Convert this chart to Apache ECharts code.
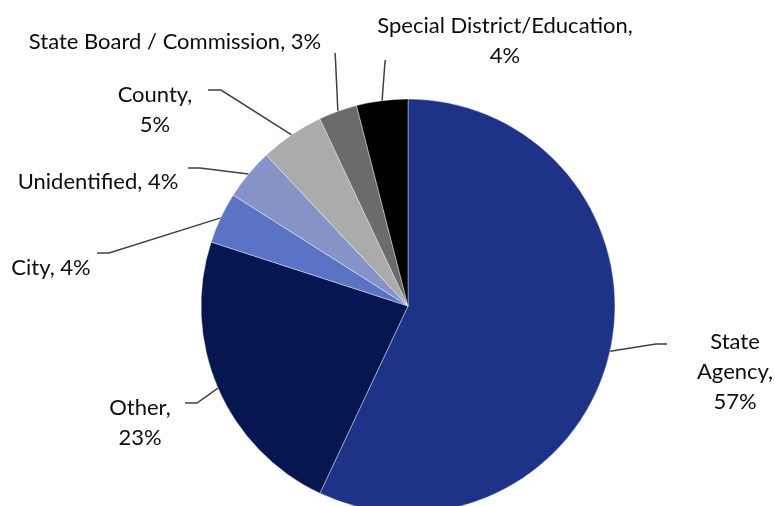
<!DOCTYPE html>
<html>
<head>
<meta charset="utf-8">
<script src="https://cdn.jsdelivr.net/npm/echarts@6/dist/echarts.min.js"></script>
<style>
  html, body { margin: 0; padding: 0; background: #fff; }
  #chart { width: 775px; height: 506px; }
</style>
</head>
<body>
<div id="chart"></div>
<script>
// Share of records by entity type (percent), clockwise from 12 o'clock
const categories = [
  'State Agency',
  'Other',
  'City',
  'Unidentified',
  'County',
  'State Board / Commission',
  'Special District/Education'
];
const shares = [57, 23, 4, 4, 5, 3, 4];

// How each label wraps: name text and the separator placed before the value
const labelNames = [
  'State\nAgency',
  'Other',
  'City',
  'Unidentified',
  'County',
  'State Board / Commission',
  'Special District/Education'
];
const labelSeps = ['\n', '\n', ' ', ' ', '\n', ' ', '\n'];

const sliceColors = ['#1e3388', '#061650', '#5a73c4', '#8593c6', '#ababab', '#6b6b6b', '#000000'];

// Label block centres (layout only)
const labelSpots = [
  [735, 372],
  [140, 423],
  [51, 268],
  [98, 182],
  [155, 110],
  [175, 42],
  [505, 41]
];
// Leader line bend and end points near each label (layout only)
const leaderBends = [
  [656, 344],
  [197, 403],
  [109, 253],
  [200, 168],
  [221, 90],
  [335.5, 60],
  [385, 62]
];
const leaderEnds = [
  [667, 344],
  [185, 403],
  [97, 253],
  [188, 168],
  [208, 90],
  [335, 53],
  [385.5, 60]
];

const chart = echarts.init(document.getElementById('chart'), null, { renderer: 'canvas' });

chart.setOption({
  animation: false,
  backgroundColor: '#ffffff',
  series: [{
    type: 'pie',
    center: [408, 306],
    radius: [0, 207],
    startAngle: 90,
    clockwise: true,
    avoidLabelOverlap: false,
    data: categories.map((c, i) => ({
      name: c,
      value: shares[i],
      itemStyle: { color: sliceColors[i] }
    })),
    itemStyle: { borderColor: '#ffffff', borderWidth: 0.4 },
    label: {
      show: true,
      position: 'outside',
      fontFamily: 'Lato',
      fontSize: 22,
      lineHeight: 30,
      color: '#0d0d0d',
      align: 'center',
      formatter: (p) => labelNames[p.dataIndex] + ',' + labelSeps[p.dataIndex] + p.value + '%'
    },
    labelLine: {
      show: true,
      length: 10,
      length2: 10,
      lineStyle: { color: '#404040', width: 1.5 }
    },
    labelLayout: (params) => {
      const i = params.dataIndex;
      // keep the slice-edge start point that the pie computes, then route to the label
      const start = params.labelLinePoints ? params.labelLinePoints[0] : leaderBends[i];
      return {
        x: labelSpots[i][0],
        y: labelSpots[i][1],
        align: 'center',
        verticalAlign: 'middle',
        labelLinePoints: [start, leaderBends[i], leaderEnds[i]]
      };
    }
  }]
});
</script>
</body>
</html>
